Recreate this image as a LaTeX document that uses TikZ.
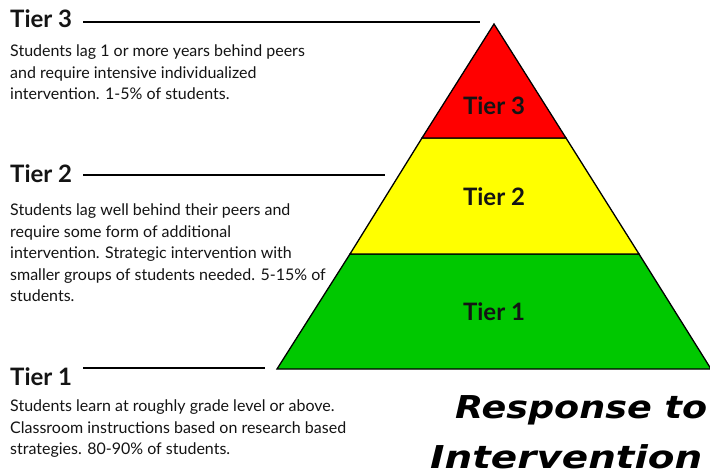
\documentclass[tikz,border=0pt]{standalone}
\usepackage{fontspec}
\usepackage{graphicx}
\setmainfont{Lato}
\newfontfamily\titlefont{DejaVu Sans}
\definecolor{tred}{RGB}{255,0,0}
\definecolor{tyellow}{RGB}{255,255,0}
\definecolor{tgreen}{RGB}{0,200,0}
\definecolor{ink}{RGB}{20,20,20}
\tikzset{
  layer/.style={draw=black, line width=1.3pt, line join=miter},
  hline/.style={draw=black, line width=2pt},
  header/.style={anchor=base west, inner sep=0pt, text=ink, font=\fontsize{24}{28}\selectfont\bfseries},
  body/.style={anchor=north west, inner sep=0pt, align=left, text=ink, font=\fontsize{16}{21.5}\selectfont},
  plabel/.style={inner sep=0pt, text=ink, font=\fontsize{24}{28}\selectfont\bfseries},
  title/.style={anchor=base west, inner sep=0pt, text=black, font=\fontsize{31.5}{36}\titlefont\bfseries\itshape}
}
\begin{document}
\begin{tikzpicture}[x=1pt,y=-1pt]
\useasboundingbox (0,0) rectangle (710,473);
\fill[white] (0,0) rectangle (710,473);
\clip (0,0) rectangle (710,473);
% pyramid corners
\coordinate (A) at (494,24);
\coordinate (L3) at (422,138);
\coordinate (R3) at (566,138);
\coordinate (L2) at (350,254);
\coordinate (R2) at (639,254);
\coordinate (BL) at (277,369);
\coordinate (BR) at (711,369);
\filldraw[layer, fill=tgreen] (L2) -- (R2) -- (BR) -- (BL) -- cycle;
\filldraw[layer, fill=tyellow] (L3) -- (R3) -- (R2) -- (L2) -- cycle;
\filldraw[layer, fill=tred] (A) -- (R3) -- (L3) -- cycle;
\node[plabel] (p3) at (494,106) {Tier 3};
\node[plabel] (p2) at (494,197) {Tier 2};
\node[plabel] (p1) at (494,312) {Tier 1};
% left headers
\node[header] (h3) at (10,28) {Tier 3};
\node[header] (h2) at (10,183) {Tier 2};
\node[header] (h1) at (10,385) {Tier 1};
\coordinate (e3) at (480,22);
\coordinate (e2) at (385,175);
\coordinate (e1) at (265,368);
\draw[hline] ([xshift=11pt]h3.east|-e3) -- (e3);
\draw[hline] ([xshift=11pt]h2.east|-e2) -- (e2);
\draw[hline] ([xshift=11pt]h1.east|-e1) -- (e1);
% body texts
\node[body] (b3) at (10,45) {Students lag 1 or more years behind peers\\and require intensive individualized\\intervention. 1-5\% of students.};
\node[body] (b2) at (10,204) {Students lag well behind their peers and\\require some form of additional\\intervention. Strategic intervention with\\smaller groups of students needed. 5-15\% of\\students.};
\node[body] (b1) at (10,400) {Students learn at roughly grade level or above.\\Classroom instructions based on research based\\strategies. 80-90\% of students.};
% title
\node[title] (t1) at (455,418) {\scalebox{1.16}[1]{Response to}};
\node[title] (t2) at (430,468) {\scalebox{1.235}[1]{Intervention}};
\end{tikzpicture}
\end{document}
